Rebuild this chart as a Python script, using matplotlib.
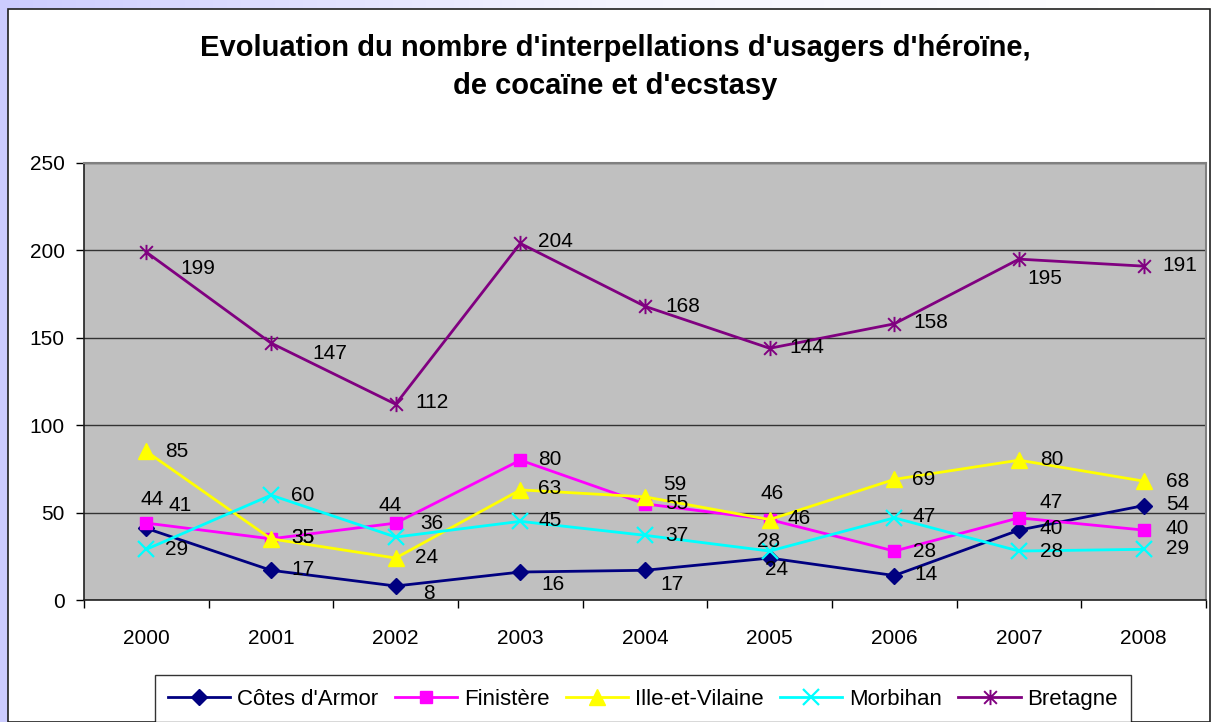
import numpy as np
import matplotlib
matplotlib.use("Agg")
import matplotlib.pyplot as plt
from matplotlib.path import Path
from matplotlib.patches import Rectangle
from matplotlib.colors import LinearSegmentedColormap

years = ["2000", "2001", "2002", "2003", "2004", "2005", "2006", "2007", "2008"]
cotes = [41, 17, 8, 16, 17, 24, 14, 40, 54]
finistere = [44, 35, 44, 80, 55, 46, 28, 47, 40]
ille = [85, 35, 24, 63, 59, 46, 69, 80, 68]
morbihan = [29, 60, 36, 45, 37, 28, 47, 28, 29]
bretagne = [199, 147, 112, 204, 168, 144, 158, 195, 191]
series_names = ["Côtes d'Armor", "Finistère", "Ille-et-Vilaine", "Morbihan", "Bretagne"]
yticks = [0, 50, 100, 150, 200, 250]

plt.rcParams['font.family'] = ['Liberation Sans', 'DejaVu Sans']

W, H = 1212, 722
fig = plt.figure(figsize=(W / 100, H / 100), dpi=100)

# background gradient (lavender)
bg = fig.add_axes([0, 0, 1, 1], zorder=-10)
grad = np.linspace(0, 1, 256)[None, :]
cm = LinearSegmentedColormap.from_list("lav", ["#CCCCFF", "#F4F4FF", "#FFFFFF"])
bg.imshow(grad, aspect='auto', cmap=cm, extent=[0, 1, 0, 1])
bg.set_axis_off()
bg.add_patch(Rectangle((8 / W, 0), (1210 - 8) / W, (H - 9) / H, transform=bg.transAxes,
                       facecolor='white', edgecolor='#202020', lw=1.2))
bg.set_xlim(0, 1); bg.set_ylim(0, 1)

left, right, top, bottom = 84, 1206, 163, 600
ax = fig.add_axes([left / W, (H - bottom) / H, (right - left) / W, (bottom - top) / H])
ax.set_facecolor('#C0C0C0')
x = np.arange(len(years))
ax.set_xlim(-0.5, len(years) - 0.5)
ax.set_ylim(0, 250)
ax.set_yticks(yticks)
ax.set_yticklabels([str(v) for v in yticks], fontsize=15)
ax.yaxis.grid(True, color='#333333', lw=1.0)
ax.set_axisbelow(True)
ax.set_xticks(np.arange(-0.5, len(years), 1.0))
ax.set_xticklabels([])
ax.set_xticks(x, minor=True)
ax.set_xticklabels(years, minor=True, fontsize=15)
ax.tick_params(axis='x', which='major', direction='out', length=6, width=1, color='black')
ax.tick_params(axis='x', which='minor', length=0, pad=21)
ax.tick_params(axis='y', direction='out', length=6, width=1, pad=8)
for s in ['top', 'right']:
    ax.spines[s].set_color('#808080')
    ax.spines[s].set_linewidth(1.5)
for s in ['left', 'bottom']:
    ax.spines[s].set_color('#202020')
    ax.spines[s].set_linewidth(1.2)

star = Path([(-1, -1), (1, 1), (-1, 1), (1, -1), (0, -1.2), (0, 1.2)],
            [Path.MOVETO, Path.LINETO, Path.MOVETO, Path.LINETO, Path.MOVETO, Path.LINETO])

styles = [
    dict(color='#000080', marker='D', ms=8, mfc='#000080', mec='#000080'),
    dict(color='#FF00FF', marker='s', ms=9, mfc='#FF00FF', mec='#FF00FF'),
    dict(color='#FFFF00', marker='^', ms=12, mfc='#FFFF00', mec='#FFFF00'),
    dict(color='#00FFFF', marker='x', ms=11, mew=1.6, mec='#00FFFF'),
    dict(color='#800080', marker=star, ms=11, mew=1.4, mec='#800080'),
]
data = [cotes, finistere, ille, morbihan, bretagne]

# label offsets in pixels (dx right, dy down) from the point
offsets = [
    [(22, -23), (20, -1), (27, 7), (21, 12), (15, 14), (-5, 11), (20, -1), (21, -2), (22, -1)],
    [(-6, -24), (20, -1), (-17, -18), (18, -1), (20, 0), (18, -1), (19, 0), (21, -15), (22, -2)],
    [(19, 0), (20, -1), (19, -1), (18, -1), (18, -12), (-9, -26), (18, 0), (21, -1), (22, 0)],
    [(19, 0), (20, 0), (25, -14), (18, -1), (20, 0), (-13, -10), (18, -1), (21, 0), (22, -1)],
    [(34, 16), (41, 10), (20, -2), (18, -2), (20, 0), (20, -1), (19, -1), (8, 19), (19, -1)],
]

handles = []
for name, vals, st, offs in zip(series_names, data, styles, offsets):
    h, = ax.plot(x, vals, lw=2, label=name, zorder=3, **st)
    handles.append(h)
    for xi, v, (dx, dy) in zip(x, vals, offs):
        ax.annotate(str(v), (xi, v), xytext=(dx, -dy), textcoords='offset pixels',
                    ha='left', va='center', fontsize=15, color='black', zorder=5)

fig.text(615 / W, 1 - 48 / H, "Evoluation du nombre d'interpellations d'usagers d'héroïne,",
         ha='center', va='center', fontsize=21, fontweight='bold')
fig.text(615 / W, 1 - 86 / H, "de cocaïne et d'ecstasy",
         ha='center', va='center', fontsize=21, fontweight='bold')

leg = fig.legend(handles=handles, loc='lower center',
                 bbox_to_anchor=(643 / W, -1 / H),
                 ncol=5, fontsize=16, frameon=True, fancybox=False, edgecolor='black',
                 handlelength=2.8, handletextpad=0.3, columnspacing=0.75, borderaxespad=0.0,
                 borderpad=0.6)
leg.get_frame().set_linewidth(1.0)

fig.savefig("out.png", dpi=100)
